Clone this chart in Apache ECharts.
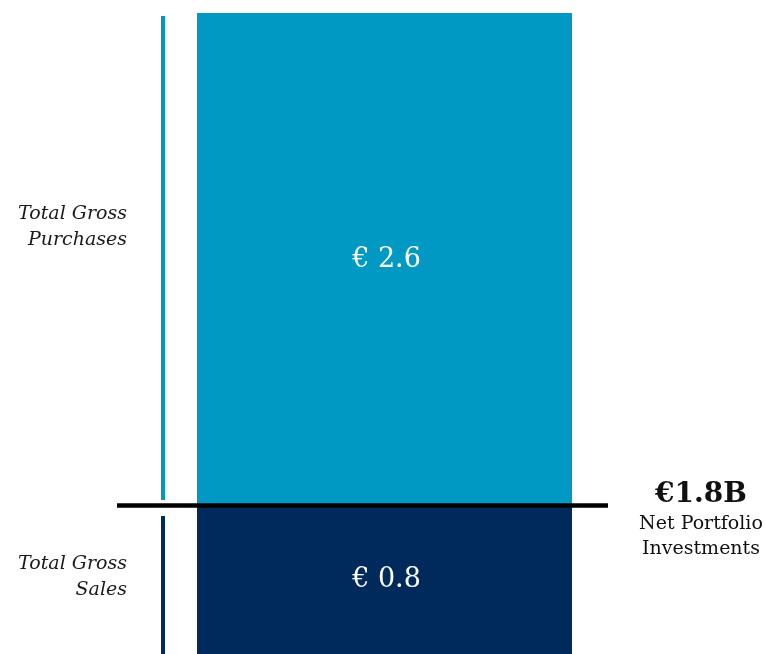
<!DOCTYPE html>
<html>
<head>
<meta charset="utf-8">
<title>Net Portfolio Investments</title>
<script src="https://cdn.jsdelivr.net/npm/echarts@6/dist/echarts.min.js"></script>
<style>
  html, body { margin: 0; padding: 0; background: #ffffff; overflow: hidden; }
  /* the base of the stack runs slightly past the bottom edge of the page */
  #chart { width: 765px; height: 660px; }
</style>
</head>
<body>
<div id="chart"></div>
<script>
// Portfolio flows, in billions of euros
const categories = ['Portfolio'];
const grossSales = [0.8];
const grossPurchases = [2.6];
const segmentNames = ['Total Gross\nSales', 'Total Gross\nPurchases'];

const SERIF = '"DejaVu Serif", Georgia, serif';
const BLUE = '#0099c4';
const NAVY = '#002a5c';

const total = grossSales[0] + grossPurchases[0];
const net = grossPurchases[0] - grossSales[0];
const fmtEuro = v => '€ ' + v.toFixed(1);

const chart = echarts.init(document.getElementById('chart'));

const yAxisBase = { type: 'value', min: 0, max: total, show: false };
const valueLabel = (dy) => ({
  show: true, position: 'inside', color: '#ffffff', offset: [2, dy],
  fontFamily: SERIF, fontSize: 27, formatter: p => fmtEuro(p.value)
});

chart.setOption({
  animation: false,
  backgroundColor: '#ffffff',
  grid: [
    { left: 197, width: 375, top: 13, height: 644 },
    { left: 117, width: 491, top: 13, height: 644 }
  ],
  xAxis: [
    { type: 'category', data: categories, gridIndex: 0, show: false },
    { type: 'category', data: ['start', 'end'], gridIndex: 1, show: false, boundaryGap: false }
  ],
  yAxis: [
    Object.assign({ gridIndex: 0 }, yAxisBase),
    Object.assign({ gridIndex: 1 }, yAxisBase)
  ],
  series: [
    {
      name: 'Total Gross Sales',
      type: 'bar',
      stack: 'flows',
      barWidth: '100%',
      data: grossSales,
      itemStyle: { color: NAVY },
      label: valueLabel(-1)
    },
    {
      name: 'Total Gross Purchases',
      type: 'bar',
      stack: 'flows',
      barWidth: '100%',
      data: grossPurchases,
      itemStyle: { color: BLUE },
      label: valueLabel(1)
    },
    {
      // divider at the top of the sales segment, with the net figure to its right
      name: 'Net',
      type: 'line',
      xAxisIndex: 1,
      yAxisIndex: 1,
      symbol: 'circle',
      symbolSize: 0,
      showSymbol: true,
      data: [grossSales[0], {
        value: grossSales[0],
        label: {
          show: true,
          position: 'right',
          distance: 93,
          align: 'center',
          verticalAlign: 'middle',
          offset: [0, 14],
          formatter: '{big|€' + net.toFixed(1) + 'B}\n{small|Net Portfolio}\n{small|Investments}',
          rich: {
            big: { fontFamily: SERIF, fontSize: 28, fontWeight: 'bold', color: '#111111', lineHeight: 34, align: 'center' },
            small: { fontFamily: SERIF, fontSize: 19, color: '#111111', lineHeight: 25, align: 'center' }
          }
        }
      }],
      lineStyle: { color: '#000000', width: 4.5 },
      z: 5
    }
  ]
});

// Brackets and captions beside each segment, placed from the axis scale
function drawSideMarks() {
  const yTop = chart.convertToPixel({ gridIndex: 0 }, [0, total])[1];
  const yMid = chart.convertToPixel({ gridIndex: 0 }, [0, grossSales[0]])[1];
  const yBot = chart.convertToPixel({ gridIndex: 0 }, [0, 0])[1];
  const bx = 163;
  const caption = (text, y) => ({
    type: 'text', x: 127, y: y,
    style: {
      text: text, fill: '#1a1a1a', font: 'italic 19px ' + SERIF,
      align: 'right', verticalAlign: 'middle', lineHeight: 26
    }
  });
  chart.setOption({
    graphic: [
      { type: 'line', shape: { x1: bx, y1: yTop + 3, x2: bx, y2: yMid - 5.5 }, style: { stroke: BLUE, lineWidth: 4 } },
      { type: 'line', shape: { x1: bx, y1: yMid + 10.5, x2: bx, y2: yBot }, style: { stroke: NAVY, lineWidth: 4 } },
      caption(segmentNames[1], (yTop + yMid) / 2 - 32),
      caption(segmentNames[0], (yMid + yBot) / 2 - 4)
    ]
  });
}
drawSideMarks();
</script>
</body>
</html>
